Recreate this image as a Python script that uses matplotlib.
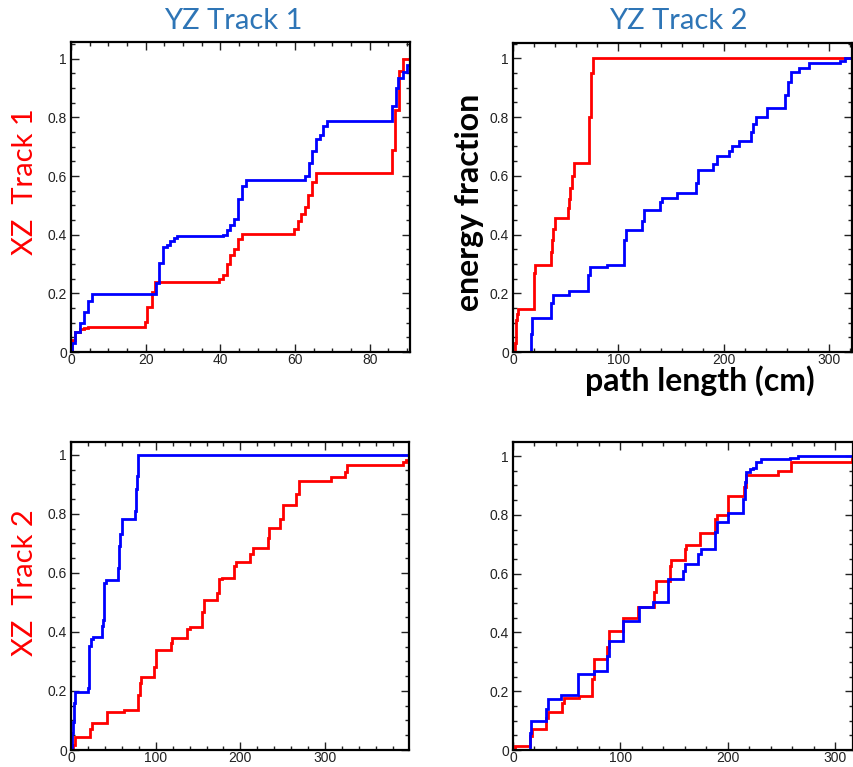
import matplotlib
matplotlib.use("Agg")
import matplotlib.pyplot as plt
from matplotlib.ticker import MultipleLocator, FuncFormatter

# ---------------- data (step positions / cumulative values) ----------------
p1_red_x = [0, 0.3, 1.2, 2.5, 3.4, 4.6, 19.8, 20.4, 21.8, 22.5, 39.7, 40.6, 41.8, 42.6, 43.7, 44.8, 45.7,
            59.6, 60.8, 61.6, 62.6, 63.5, 64.6, 65.6, 85.9, 86.9, 87.9, 89.0]
p1_red_y = [0, 0.04, 0.069, 0.078, 0.082, 0.086, 0.103, 0.152, 0.206, 0.24, 0.248, 0.263, 0.30, 0.33, 0.35,
            0.385, 0.403, 0.42, 0.445, 0.47, 0.495, 0.535, 0.58, 0.609, 0.69, 0.826, 0.957, 1.0]
p1_blue_x = [0, 0.3, 1.2, 2.5, 3.4, 4.6, 5.5, 22.7, 22.9, 23.6, 24.7, 25.6, 26.4, 27.6, 28.5,
             40.6, 41.8, 42.6, 43.7, 44.6, 45.7, 46.9, 62.7, 63.7, 64.6, 65.5, 66.8, 67.6, 68.5,
             86.0, 87.0, 87.6, 89.0, 89.9]
p1_blue_y = [0, 0.03, 0.069, 0.1, 0.137, 0.175, 0.198, 0.229, 0.234, 0.305, 0.357, 0.366, 0.378, 0.389, 0.394,
             0.398, 0.417, 0.432, 0.454, 0.52, 0.566, 0.586, 0.6, 0.646, 0.686, 0.726, 0.741, 0.771, 0.789,
             0.838, 0.9, 0.933, 0.954, 0.979]

p2_red_x = [0, 1.6, 2.5, 3.8, 4.8, 20.0, 21.2, 35.8, 36.7, 38.0, 39.6, 52.3, 53.2, 54.5, 56.0, 57.6,
            71.9, 72.5, 73.5, 75.4]
p2_red_y = [0, 0.03, 0.11, 0.13, 0.145, 0.27, 0.297, 0.34, 0.38, 0.42, 0.455, 0.49, 0.52, 0.56, 0.6, 0.645,
            0.69, 0.8, 0.95, 1.0]
p2_blue_x = [0, 17.4, 18.4, 36.4, 38.0, 53.2, 71.3, 72.9, 89.6, 105.2, 107.1, 122.0, 124.2, 139.4, 141.6,
             155.2, 173.3, 175.8, 190.0, 193.2, 205.3, 207.5, 214.4, 225.5, 228.0, 230.6, 240.7, 258.2,
             260.4, 263.5, 270.8, 280.3, 310.4, 315.2]
p2_blue_y = [0, 0.06, 0.115, 0.166, 0.194, 0.209, 0.263, 0.29, 0.296, 0.383, 0.414, 0.446, 0.483, 0.509,
             0.526, 0.54, 0.577, 0.62, 0.64, 0.666, 0.686, 0.703, 0.717, 0.749, 0.777, 0.8, 0.831, 0.874,
             0.92, 0.952, 0.966, 0.985, 0.992, 1.0]

p3_red_x = [0, 2.4, 4.3, 22.9, 24.9, 42.6, 62.4, 79.4, 80.9, 82.9, 97.9, 99.9, 117.6, 118.8, 137.4, 140.2,
            155.2, 157.1, 172.9, 174.9, 178.8, 191.9, 194.6, 211.2, 214.4, 232.1, 234.1, 246.7, 249.9,
            265.7, 268.9, 307.1, 322.9, 325.7, 392.0, 396.0]
p3_red_y = [0, 0.017, 0.045, 0.07, 0.093, 0.13, 0.136, 0.187, 0.227, 0.249, 0.283, 0.338, 0.363, 0.38,
            0.41, 0.416, 0.467, 0.51, 0.533, 0.578, 0.584, 0.624, 0.637, 0.663, 0.686, 0.72, 0.751, 0.782,
            0.83, 0.867, 0.912, 0.924, 0.941, 0.966, 0.975, 0.984]
p3_blue_x = [0, 1.2, 2.4, 3.6, 4.3, 19.7, 20.9, 21.7, 23.7, 25.7, 36.7, 37.9, 39.5, 41.5, 55.7, 56.8,
             58.4, 60.4, 75.4, 76.6, 77.8, 79.4]
p3_blue_y = [0, 0.057, 0.096, 0.159, 0.195, 0.21, 0.272, 0.351, 0.376, 0.383, 0.42, 0.442, 0.567, 0.576,
             0.618, 0.69, 0.731, 0.782, 0.81, 0.884, 0.93, 1.0]

p4_red_x = [0, 1.6, 16.1, 18.0, 31.0, 32.6, 45.9, 47.2, 61.4, 73.8, 75.1, 87.8, 89.0, 102.4, 116.4,
            131.2, 133.4, 145.8, 147.4, 159.8, 161.3, 173.8, 187.7, 189.9, 200.4, 215.0, 217.2, 246.7,
            259.1, 315.5]
p4_red_y = [0, 0.014, 0.048, 0.07, 0.11, 0.131, 0.161, 0.178, 0.184, 0.241, 0.309, 0.349, 0.406, 0.449,
            0.485, 0.536, 0.576, 0.627, 0.648, 0.684, 0.698, 0.739, 0.786, 0.8, 0.864, 0.894, 0.937,
            0.951, 0.98, 0.99]
p4_blue_x = [0, 15.5, 16.4, 31.0, 32.6, 45.0, 60.5, 75.1, 87.8, 89.0, 102.4, 117.0, 130.3, 144.6, 158.2,
             159.8, 172.2, 175.3, 187.7, 189.9, 200.4, 214.1, 215.6, 217.2, 220.3, 223.4, 226.5, 231.2,
             257.5, 265.3]
p4_blue_y = [0, 0.059, 0.099, 0.139, 0.173, 0.186, 0.258, 0.269, 0.32, 0.372, 0.44, 0.485, 0.502, 0.582,
             0.61, 0.633, 0.667, 0.684, 0.741, 0.777, 0.807, 0.855, 0.911, 0.945, 0.955, 0.96, 0.98,
             0.989, 0.993, 1.0]

col_titles = ["YZ Track 1", "YZ Track 2"]
row_titles = ["XZ  Track 1", "XZ  Track 2"]
xlabel_text = "path length (cm)"
ylabel_text = "energy fraction"

# ---------------- figure ----------------
W, H = 854, 767
fig = plt.figure(figsize=(W / 100, H / 100), dpi=100)

def box(l, t, r, b):
    return [l / W, 1 - b / H, (r - l) / W, (b - t) / H]

panels = [
    dict(rect=box(71, 42, 410, 352), xmax=90.8, ymax=1.057, xmaj=20, xmin=5,
         red=(p1_red_x, p1_red_y), blue=(p1_blue_x, p1_blue_y)),
    dict(rect=box(513, 43, 852, 352), xmax=321.5, ymax=1.052, xmaj=100, xmin=20,
         red=(p2_red_x, p2_red_y), blue=(p2_blue_x, p2_blue_y)),
    dict(rect=box(71, 442, 409, 750), xmax=399, ymax=1.044, xmaj=100, xmin=20,
         red=(p3_red_x, p3_red_y), blue=(p3_blue_x, p3_blue_y)),
    dict(rect=box(513, 442, 853, 750), xmax=316.5, ymax=1.048, xmaj=100, xmin=20,
         red=(p4_red_x, p4_red_y), blue=(p4_blue_x, p4_blue_y)),
]

def yfmt(v, pos):
    if abs(v) < 1e-9:
        return "0"
    if abs(v - 1) < 1e-9:
        return "1"
    return "%.1f" % v

for p in panels:
    ax = fig.add_axes(p["rect"])
    xmax = p["xmax"]
    for key, col in (("red", "#ff0000"), ("blue", "#0000ff")):
        xs, ys = p[key]
        xs = list(xs) + [xmax]
        ys = list(ys) + [ys[-1]]
        ax.step(xs, ys, where="post", color=col, lw=2.0, solid_joinstyle="miter")
    ax.set_xlim(0, xmax)
    ax.set_ylim(0, p["ymax"])
    ax.xaxis.set_major_locator(MultipleLocator(p["xmaj"]))
    ax.xaxis.set_minor_locator(MultipleLocator(p["xmin"]))
    ax.yaxis.set_major_locator(MultipleLocator(0.2))
    ax.yaxis.set_minor_locator(MultipleLocator(0.05))
    ax.yaxis.set_major_formatter(FuncFormatter(yfmt))
    ax.tick_params(which="both", direction="in", top=True, right=True,
                   color="#222222", width=1.0)
    ax.tick_params(which="major", length=6)
    ax.tick_params(which="minor", length=3)
    ax.tick_params(axis="y", which="major", pad=3, labelsize=10, labelcolor="#222222")
    ax.tick_params(axis="x", which="major", pad=0.5, labelsize=10, labelcolor="#222222")
    for lab in ax.get_xticklabels() + ax.get_yticklabels():
        lab.set_family("Liberation Sans")
    for s in ax.spines.values():
        s.set_linewidth(1.6)
        s.set_color("black")

title_font = ["Lato", "DejaVu Sans"]
fig.text(233 / W, 1 - 21 / H, col_titles[0], color="#2E75B6", fontsize=21,
         family=title_font, ha="center", va="center")
fig.text(678 / W, 1 - 21 / H, col_titles[1], color="#2E75B6", fontsize=21,
         family=title_font, ha="center", va="center")
fig.text(25 / W, 1 - 182 / H, row_titles[0], color="#ff0000", fontsize=21,
         family=title_font, ha="center", va="center", rotation=90)
fig.text(25 / W, 1 - 583 / H, row_titles[1], color="#ff0000", fontsize=21,
         family=title_font, ha="center", va="center", rotation=90)
fig.text(470 / W, 1 - 202 / H, ylabel_text, color="black", fontsize=23, fontweight="bold",
         family=title_font, ha="center", va="center", rotation=90)
fig.text(700 / W, 1 - 381 / H, xlabel_text, color="black", fontsize=23, fontweight="bold",
         family=title_font, ha="center", va="center")

fig.savefig("out.png", dpi=100)
